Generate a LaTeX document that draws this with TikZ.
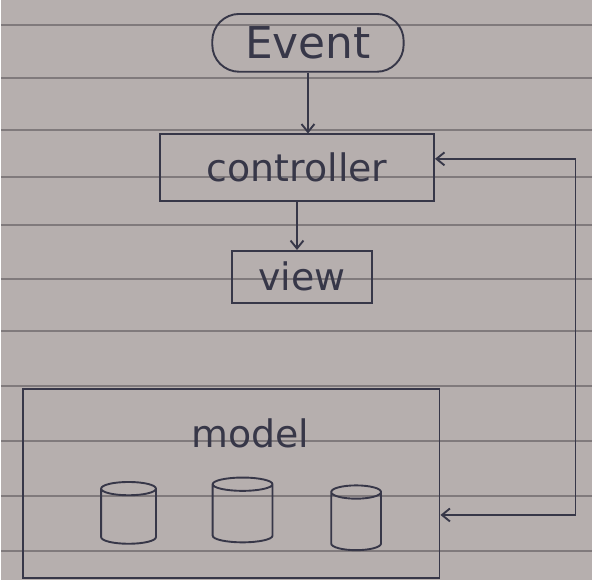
\documentclass[tikz,border=0pt]{standalone}
\usepackage{fontspec}
\newfontfamily\handfont{DejaVu Sans}
\usetikzlibrary{positioning,shapes.geometric,arrows.meta}
\definecolor{paper}{RGB}{182,175,174}
\definecolor{rule}{RGB}{128,122,124}
\definecolor{ink}{RGB}{55,55,72}

\begin{document}
\begin{tikzpicture}[x=1pt, y=1pt, >={Straight Barb[length=8pt,width=13pt]}, main box/.style={draw=ink, line width=1.9pt, text=ink, inner sep=0pt, font=\handfont\fontsize{38}{40}\selectfont}, tag/.style={text=ink, inner sep=0pt, font=\handfont\fontsize{38}{40}\selectfont}, db/.style={cylinder, shape border rotate=90, aspect=2, draw=ink, line width=1.9pt}, link/.style={->, draw=ink, line width=1.9pt}]
	% lined paper
	\fill[paper] (0,0) rectangle (593,582);
	\foreach \y in {557,504,452,404,356,302,250,195,140,84,29}
		\draw[rule, line width=2pt] (0,\y) -- (593,\y);
	\useasboundingbox (0,0) rectangle (593,582);

	\node[main box, rounded corners=27pt, minimum width=192pt, minimum height=58pt, font=\handfont\fontsize{44}{46}\selectfont] (event) at (308,539) {Event};
	\node[main box, minimum width=275pt, minimum height=67pt] (controller) [below=61pt of event, xshift=-11pt] {controller};
	\node[main box, minimum width=140pt, minimum height=52pt] (view) [below=48pt of controller, xshift=5pt] {view};
	\node[main box, minimum width=418pt, minimum height=189pt] (model) [below=85pt of view, xshift=-71pt] {};
	\node[tag] (modeltag) [below=30pt of model.north, xshift=19pt] {model};

	% stores
	\node[db, minimum width=55pt, minimum height=62pt] (store1) at (128,62) {};
	\node[db, minimum width=60pt, minimum height=65pt] (store2) [right=55pt of store1, yshift=3pt] {};
	\node[db, minimum width=50pt, minimum height=65pt] (store3) [right=57pt of store2, yshift=-8pt] {};

	\draw[link] (event.south) -- (event.south |- controller.north);
	\draw[link] (controller.south) -- (controller.south |- view.north);
	\draw[link, <->] ([yshift=9pt]controller.east) -- ++(141pt,0) |- ([yshift=-31.5pt]model.east);
\end{tikzpicture}
\end{document}
